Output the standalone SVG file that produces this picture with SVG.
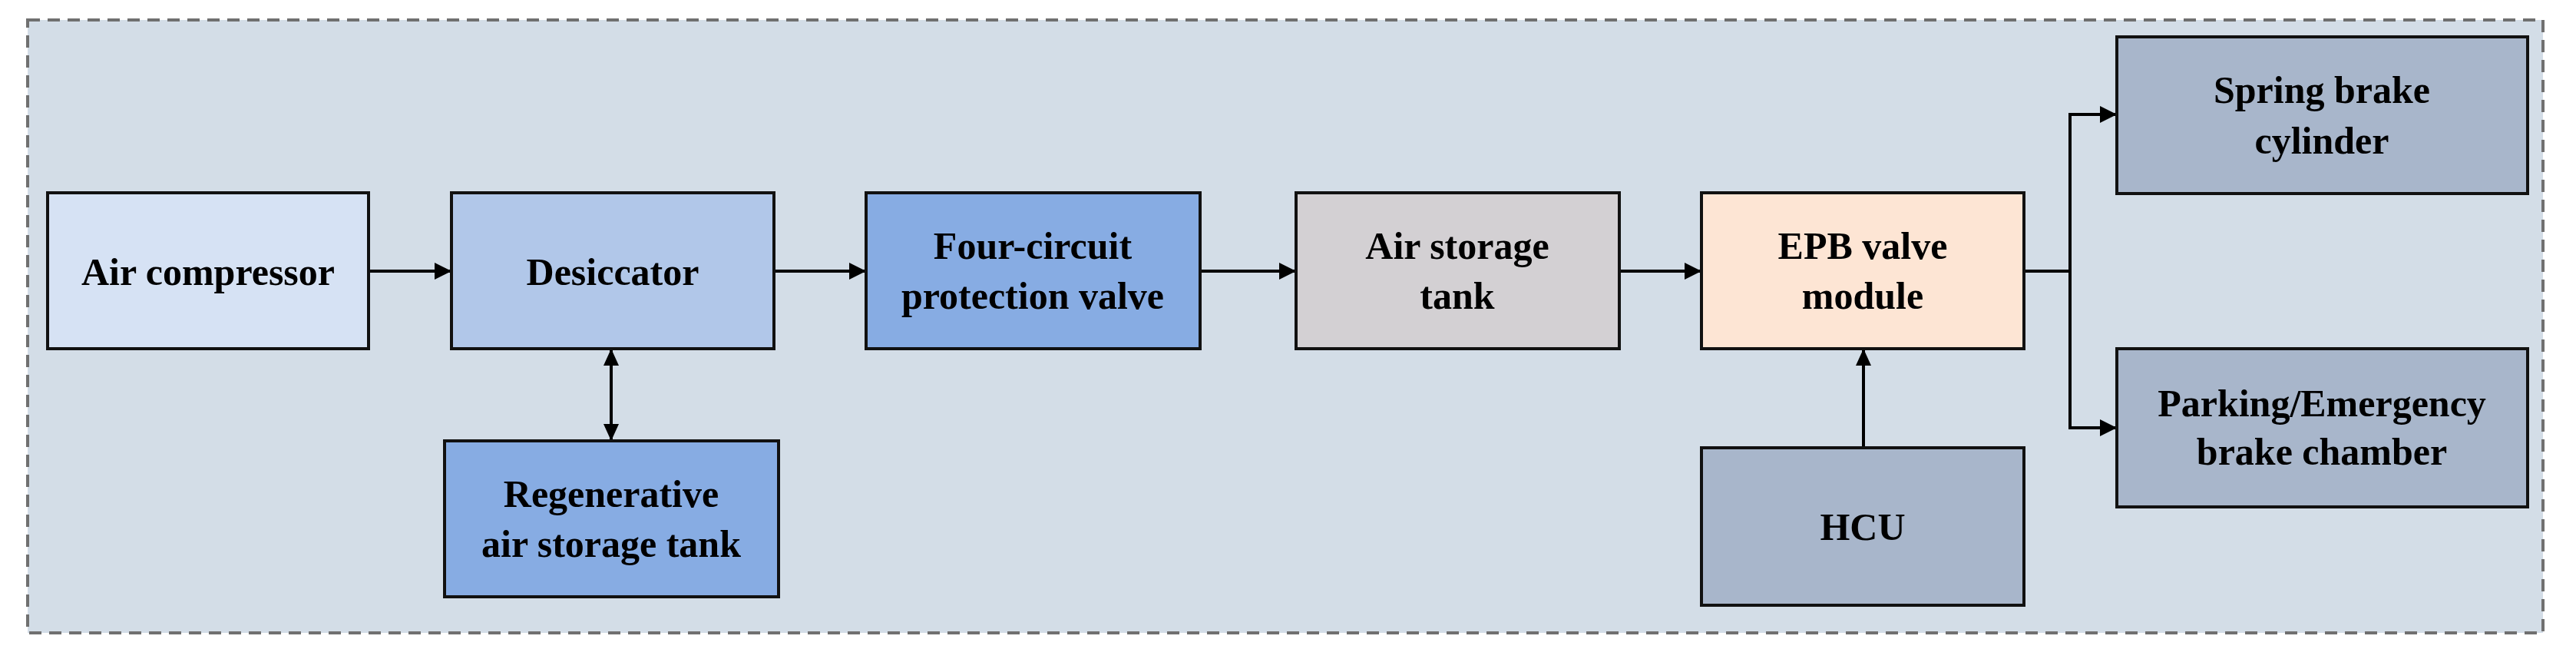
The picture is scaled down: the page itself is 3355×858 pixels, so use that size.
<svg xmlns="http://www.w3.org/2000/svg" width="3355" height="858" viewBox="0 0 3355 858">
<style>
.n{stroke:#111;stroke-width:4}
.t{font-family:"Liberation Serif","Times New Roman",serif;font-weight:bold;font-size:50px;text-anchor:middle;fill:#000}
.c{fill:none;stroke:#000;stroke-width:4}
</style>
<defs>
<marker id="a" markerWidth="10" markerHeight="10" refX="9" refY="5" orient="auto-start-reverse" markerUnits="userSpaceOnUse" viewBox="0 0 10 10">
<path d="M0,0 L10,5 L0,10 z" fill="#000"/>
</marker>
</defs>
<rect width="3355" height="858" fill="#fff"/>
<rect x="36" y="26" width="3276" height="798" fill="#d3dde7" stroke="#707070" stroke-width="4" stroke-dasharray="16,10"/>
<g id="connectors">
<line class="c" x1="480" y1="353" x2="586" y2="353" marker-end="url(#a)" style="marker-end:url(#a)"/>
<line class="c" x1="1008" y1="353" x2="1126" y2="353"/>
<line class="c" x1="1563" y1="353" x2="1686" y2="353"/>
<line class="c" x1="2109" y1="353" x2="2214" y2="353"/>
<line class="c" x1="796" y1="456" x2="796" y2="572"/>
<line class="c" x1="2427" y1="583" x2="2427" y2="456"/>
<polyline class="c" points="2636,353 2696,353 2696,149 2755,149"/>
<polyline class="c" points="2696,353 2696,557 2755,557"/>
</g>
<g id="arrowheads" fill="#000">
<path d="M588,353 l-22,-11 v22 z"/>
<path d="M1128,353 l-22,-11 v22 z"/>
<path d="M1688,353 l-22,-11 v22 z"/>
<path d="M2216,353 l-22,-11 v22 z"/>
<path d="M796,454 l-10,22 h20 z"/>
<path d="M796,574 l-10,-22 h20 z"/>
<path d="M2427,454 l-10,22 h20 z"/>
<path d="M2757,149 l-22,-11 v22 z"/>
<path d="M2757,557 l-22,-11 v22 z"/>
</g>
<g id="air-compressor"><rect class="n" x="62" y="251" width="418" height="203" fill="#d6e2f4"/><text class="t" x="271" y="371">Air compressor</text></g>
<g id="desiccator"><rect class="n" x="588" y="251" width="420" height="203" fill="#b1c7e9"/><text class="t" x="798" y="371">Desiccator</text></g>
<g id="regenerative"><rect class="n" x="579" y="574" width="435" height="203" fill="#87ace3"/><text class="t" x="796" y="660">Regenerative</text><text class="t" x="796" y="725">air storage tank</text></g>
<g id="four-circuit"><rect class="n" x="1128" y="251" width="435" height="203" fill="#87ace3"/><text class="t" x="1345" y="337">Four-circuit</text><text class="t" x="1345" y="402">protection valve</text></g>
<g id="air-storage"><rect class="n" x="1688" y="251" width="421" height="203" fill="#d3d0d3"/><text class="t" x="1898" y="337">Air storage</text><text class="t" x="1898" y="402">tank</text></g>
<g id="epb"><rect class="n" x="2216" y="251" width="420" height="203" fill="#fde5d4"/><text class="t" x="2426" y="337">EPB valve</text><text class="t" x="2426" y="402">module</text></g>
<g id="hcu"><rect class="n" x="2216" y="583" width="420" height="205" fill="#a8b6cb"/><text class="t" x="2426" y="703">HCU</text></g>
<g id="spring"><rect class="n" x="2757" y="48" width="535" height="204" fill="#a8b6cb"/><text class="t" x="3024" y="134">Spring brake</text><text class="t" x="3024" y="200">cylinder</text></g>
<g id="parking"><rect class="n" x="2757" y="454" width="535" height="206" fill="#a8b6cb"/><text class="t" x="3024" y="542">Parking/Emergency</text><text class="t" x="3024" y="605">brake chamber</text></g>
</svg>
